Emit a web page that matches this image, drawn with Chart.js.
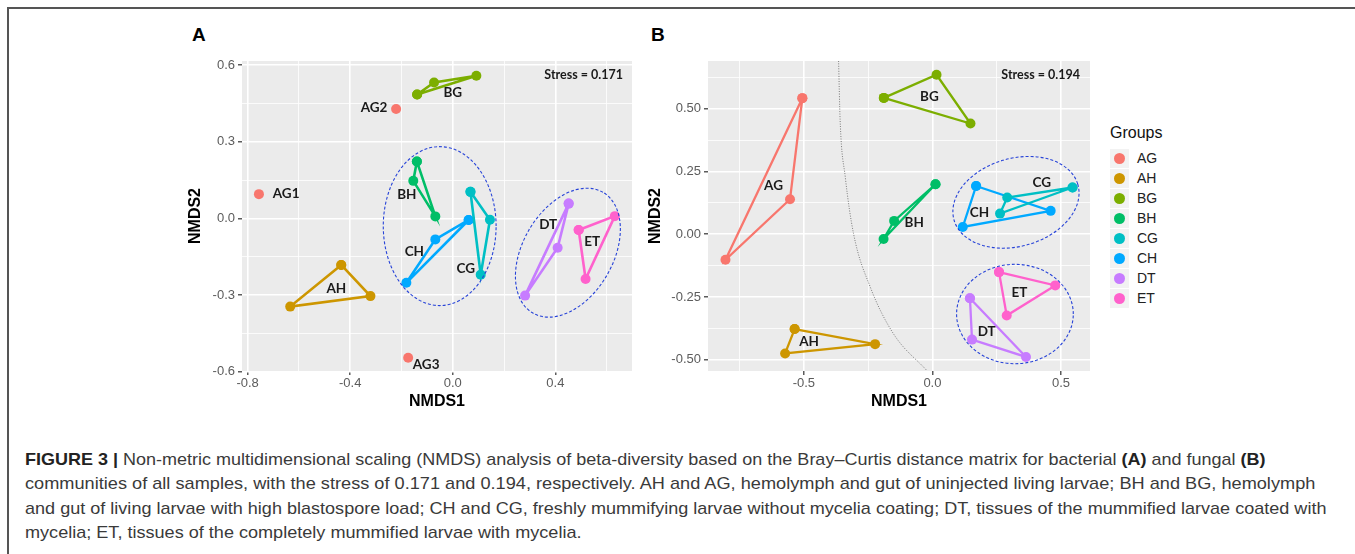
<!DOCTYPE html>
<html>
<head>
<meta charset="utf-8">
<script src="https://cdn.jsdelivr.net/npm/chart.js@4.4.1/dist/chart.umd.min.js"></script>
<style>
  body { margin: 0; background: #fff; width: 1355px; height: 554px; overflow: hidden; position: relative;
         font-family: 'Liberation Sans', Arial, sans-serif; }
  #frame { position: absolute; left: 7px; top: 7px; width: 1400px; height: 600px;
           border-top: 2px solid #555; border-left: 2px solid #555; }
  .cv { position: absolute; top: 45px; }
  .pl { position: absolute; top: 24px; font: bold 19px 'Liberation Sans', Arial, sans-serif; color: #000; line-height: 22px; }
  #legend { position: absolute; left: 1110px; top: 123px; }
  #legend .lt { font-size: 16px; line-height: 20px; color: #111; margin-bottom: 5px; }
  #legend .row { height: 20px; display: flex; align-items: center; }
  #legend .key { width: 19px; height: 19px; background: #f2f2f2; position: relative; margin-right: 8px; }
  #legend .key i { position: absolute; left: 4px; top: 4px; width: 11px; height: 11px; border-radius: 50%; }
  #legend .row span { font-size: 14px; color: #222; }
  .cap { position: absolute; left: 25px; white-space: nowrap; transform-origin: 0 50%;
         font: 17px 'Liberation Sans Narrow', 'Liberation Sans', Arial, sans-serif; color: #3a3a3a; line-height: 20px; }
  .cap b { color: #222; }
</style>
</head>
<body>
<div id="frame"></div>
<div class="pl" style="left:192px">A</div>
<div class="pl" style="left:651px">B</div>
<canvas id="ca" class="cv" style="left:180px" width="460" height="370"></canvas>
<canvas id="cb" class="cv" style="left:640px" width="460" height="370"></canvas>
<div id="legend"></div>

<div class="cap" id="l1" style="top:450px"><b>FIGURE 3 |</b> Non-metric multidimensional scaling (NMDS) analysis of beta-diversity based on the Bray–Curtis distance matrix for bacterial <b>(A)</b> and fungal <b>(B)</b></div>
<div class="cap" id="l2" style="top:474px">communities of all samples, with the stress of 0.171 and 0.194, respectively. AH and AG, hemolymph and gut of uninjected living larvae; BH and BG, hemolymph</div>
<div class="cap" id="l3" style="top:499px">and gut of living larvae with high blastospore load; CH and CG, freshly mummifying larvae without mycelia coating; DT, tissues of the mummified larvae coated with</div>
<div class="cap" id="l4" style="top:523px">mycelia; ET, tissues of the completely mummified larvae with mycelia.</div>

<script>
// ── groups & colours (ggplot hue palette) ─────────────────────
const groups = ['AG', 'AH', 'BG', 'BH', 'CG', 'CH', 'DT', 'ET']
const colors = ['#F8766D', '#CD9600', '#7CAE00', '#00BE67', '#00BFC4', '#00A9FF', '#C77CFF', '#FF61CC']

// ── panel A: bacterial NMDS scores [NMDS1, NMDS2] ─────────────
const A_AG = [[-0.756, 0.095], [-0.221, 0.428], [-0.174, -0.545]]
const A_AH = [[-0.435, -0.182], [-0.321, -0.304], [-0.634, -0.345]]
const A_BG = [[-0.139, 0.485], [-0.073, 0.532], [0.092, 0.558]]
const A_BH = [[-0.140, 0.223], [-0.154, 0.147], [-0.068, 0.008]]
const A_CG = [[0.069, 0.104], [0.145, -0.005], [0.109, -0.220]]
const A_CH = [[0.062, -0.006], [-0.068, -0.082], [-0.181, -0.252]]
const A_DT = [[0.452, 0.058], [0.409, -0.115], [0.282, -0.302]]
const A_ET = [[0.491, -0.045], [0.632, 0.009], [0.518, -0.237]]

const A_labels = [
  ['BG', 0.0, 0.493], ['AG2', -0.307, 0.433], ['AG1', -0.65, 0.097], ['BH', -0.179, 0.093],
  ['CH', -0.15, -0.129], ['CG', 0.051, -0.198], ['AH', -0.454, -0.276], ['AG3', -0.104, -0.571],
  ['DT', 0.372, -0.025], ['ET', 0.544, -0.09],
]
// [centre x, centre y, semi-axis a, semi-axis b, rotation deg]
const A_ellipses = [[-0.051, -0.030, 0.220, 0.311, 0], [0.449, -0.134, 0.273, 0.176, 60]]
const A_stress = 'Stress = 0.171'

const A_xMajor = [-0.8, -0.4, 0, 0.4], A_xMajorLbl = ['-0.8', '-0.4', '0.0', '0.4']
const A_xMinor = [-0.6, -0.2, 0.2, 0.6]
const A_yMajor = [-0.6, -0.3, 0, 0.3, 0.6], A_yMajorLbl = ['-0.6', '-0.3', '0.0', '0.3', '0.6']
const A_yMinor = [-0.45, -0.15, 0.15, 0.45]

// ── panel B: fungal NMDS scores ───────────────────────────────
const B_AG = [[-0.506, 0.542], [-0.554, 0.139], [-0.805, -0.102]]
const B_AH = [[-0.536, -0.378], [-0.223, -0.438], [-0.573, -0.475]]
const B_BG = [[-0.189, 0.543], [0.016, 0.635], [0.148, 0.441]]
const B_BH = [[0.012, 0.199], [-0.149, 0.053], [-0.190, -0.019]]
const B_CG = [[0.545, 0.186], [0.291, 0.146], [0.263, 0.082]]
const B_CH = [[0.170, 0.192], [0.460, 0.093], [0.118, 0.029]]
const B_DT = [[0.146, -0.255], [0.154, -0.420], [0.364, -0.489]]
const B_ET = [[0.259, -0.151], [0.478, -0.204], [0.289, -0.324]]
const B_curve = [[-0.365, 0.69], [-0.359, 0.454], [-0.339, 0.228], [-0.307, 0.003], [-0.242, -0.21], [-0.152, -0.396], [-0.02, -0.545]]

const B_labels = [
  ['AG', -0.618, 0.192], ['BG', -0.012, 0.547], ['BH', -0.071, 0.045], ['CG', 0.425, 0.204],
  ['CH', 0.183, 0.086], ['ET', 0.338, -0.232], ['DT', 0.211, -0.389], ['AH', -0.48, -0.43],
]
const B_ellipses = [[0.325, 0.127, 0.251, 0.175, 17], [0.321, -0.318, 0.227, 0.198, 0]]
const B_stress = 'Stress = 0.194'

const B_xMajor = [-0.5, 0, 0.5], B_xMajorLbl = ['-0.5', '0.0', '0.5']
const B_xMinor = [-0.75, -0.25, 0.25]
const B_yMajor = [-0.5, -0.25, 0, 0.25, 0.5], B_yMajorLbl = ['-0.50', '-0.25', '0.00', '0.25', '0.50']
const B_yMinor = [-0.375, -0.125, 0.125, 0.375, 0.625]

// ── helpers ───────────────────────────────────────────────────
const isIn = (arr, v) => arr.some(a => Math.abs(a - v) < 1e-6)
const TICK_FONT = { family: 'Liberation Sans', size: 13 }
const TITLE_FONT = { family: 'Liberation Sans', size: 16, weight: 'bold' }

function axis(min, max, major, majorLbl, minor, isX, fitSize, title) {
  return {
    type: 'linear', min, max,
    afterBuildTicks: s => { s.ticks = [...minor, ...major].sort((a, b) => a - b).map(v => ({ value: v })) },
    afterFit: s => { if (isX) s.height = fitSize; else s.width = fitSize },
    border: { display: false },
    grid: {
      color: '#fff',
      lineWidth: c => isIn(major, c.tick.value) ? 1.6 : 0.8,
      tickColor: c => isIn(major, c.tick.value) ? '#333' : 'rgba(0,0,0,0)',
      tickLength: 4, tickWidth: 1.2,
    },
    ticks: {
      color: '#5c5c5c', font: TICK_FONT, padding: isX ? 1 : 3, autoSkip: false, maxRotation: 0,
      callback: v => { const i = major.findIndex(a => Math.abs(a - v) < 1e-6); return i < 0 ? '' : majorLbl[i] },
    },
    title: { display: true, text: isX ? 'NMDS1' : 'NMDS2', font: TITLE_FONT, color: '#000',
             padding: isX ? { top: 0, bottom: 4 } : { top: 6, bottom: 0 } },
  }
}

function groupDS(pts, col, closed, lw) {
  const data = pts.map(([x, y]) => ({ x, y }))
  if (closed) data.push({ ...data[0] })
  return {
    data, showLine: closed, borderColor: col, backgroundColor: col,
    pointBackgroundColor: col, pointBorderColor: col, pointBorderWidth: 0,
    pointRadius: 5, borderWidth: lw, tension: 0,
  }
}

// panel background + ellipses + text labels
const panelPlugin = {
  id: 'panel',
  beforeDraw(chart) {
    const { ctx, chartArea: a } = chart
    ctx.save(); ctx.fillStyle = '#EBEBEB'; ctx.fillRect(a.left, a.top, a.width, a.height); ctx.restore()
  },
  afterDatasetsDraw(chart) {
    const { ctx, scales: { x, y } } = chart
    const o = chart.options.plugins.panel
    const kx = x.getPixelForValue(1) - x.getPixelForValue(0)
    const ky = y.getPixelForValue(0) - y.getPixelForValue(1)
    o.ellipses.forEach(([cx, cy, ra, rb, rot]) => {
      ctx.save()
      ctx.translate(x.getPixelForValue(cx), y.getPixelForValue(cy))
      ctx.scale(kx, -ky)
      ctx.rotate(rot * Math.PI / 180)
      ctx.beginPath()
      ctx.ellipse(0, 0, ra, rb, 0, 0, Math.PI * 2)
      ctx.restore()
      ctx.save()
      ctx.setLineDash([3, 2]); ctx.lineWidth = 1.1; ctx.strokeStyle = '#2743d8'
      ctx.stroke(); ctx.restore()
    })
    ctx.save()
    ctx.fillStyle = '#1a1a1a'; ctx.textAlign = 'center'; ctx.textBaseline = 'middle'
    ctx.font = `bold ${o.labelSize}px Lato`
    o.labels.forEach(([t, lx, ly]) => ctx.fillText(t, x.getPixelForValue(lx), y.getPixelForValue(ly)))
    ctx.font = 'bold 12.5px Lato'; ctx.textAlign = 'right'
    ctx.fillText(o.stress, x.getPixelForValue(o.stressAt[0]), y.getPixelForValue(o.stressAt[1]))
    ctx.restore()
  },
}

function build(id, sets, lw, labels, ellipses, stress, stressAt, xs, ys, yWidth, padRight, extra) {
  const datasets = sets.map((pts, i) => groupDS(pts, colors[i], !(id === 'ca' && i === 0), lw))
  if (extra) datasets.unshift(extra)
  return new Chart(document.getElementById(id), {
    type: 'scatter',
    data: { datasets },
    options: {
      responsive: false, animation: false, events: [],
      layout: { padding: { left: 0, top: 16, right: padRight, bottom: 0 } },
      scales: {
        x: axis(...xs, true, 44),
        y: axis(...ys, false, yWidth),
      },
      plugins: {
        legend: { display: false }, tooltip: { enabled: false },
        panel: { labels, ellipses, stress, stressAt, labelSize: 13.5 },
      },
    },
    plugins: [panelPlugin],
  })
}

build('ca', [A_AG, A_AH, A_BG, A_BH, A_CG, A_CH, A_DT, A_ET], 2.6, A_labels, A_ellipses, A_stress, [0.664, 0.562],
  [-0.822, 0.699, A_xMajor, A_xMajorLbl, A_xMinor], [-0.597, 0.616, A_yMajor, A_yMajorLbl, A_yMinor], 62, 8)

build('cb', [B_AG, B_AH, B_BG, B_BH, B_CG, B_CH, B_DT, B_ET], 2.3, B_labels, B_ellipses, B_stress, [0.574, 0.633],
  [-0.873, 0.613, B_xMajor, B_xMajorLbl, B_xMinor], [-0.545, 0.69, B_yMajor, B_yMajorLbl, B_yMinor], 68, 10,
  { data: B_curve.map(([x, y]) => ({ x, y })), showLine: true, borderColor: '#7a7a7a', borderWidth: 1,
    borderDash: [1, 1.5], pointRadius: 0, cubicInterpolationMode: 'monotone' })

// ── legend ────────────────────────────────────────────────────
document.getElementById('legend').innerHTML = '<div class="lt">Groups</div>' +
  groups.map((g, i) => `<div class="row"><div class="key"><i style="background:${colors[i]}"></i></div><span>${g}</span></div>`).join('')

// ── caption: squeeze each line to the reference line width ────
const capTargets = [1241, 1290, 1302]
const fs = []
capTargets.forEach((w, i) => {
  const el = document.getElementById('l' + (i + 1))
  const f = w / el.scrollWidth
  fs.push(f)
  el.style.transform = `scaleX(${f})`
})
document.getElementById('l4').style.transform = `scaleX(${fs.reduce((s, f) => s + f, 0) / fs.length})`
</script>
</body>
</html>
